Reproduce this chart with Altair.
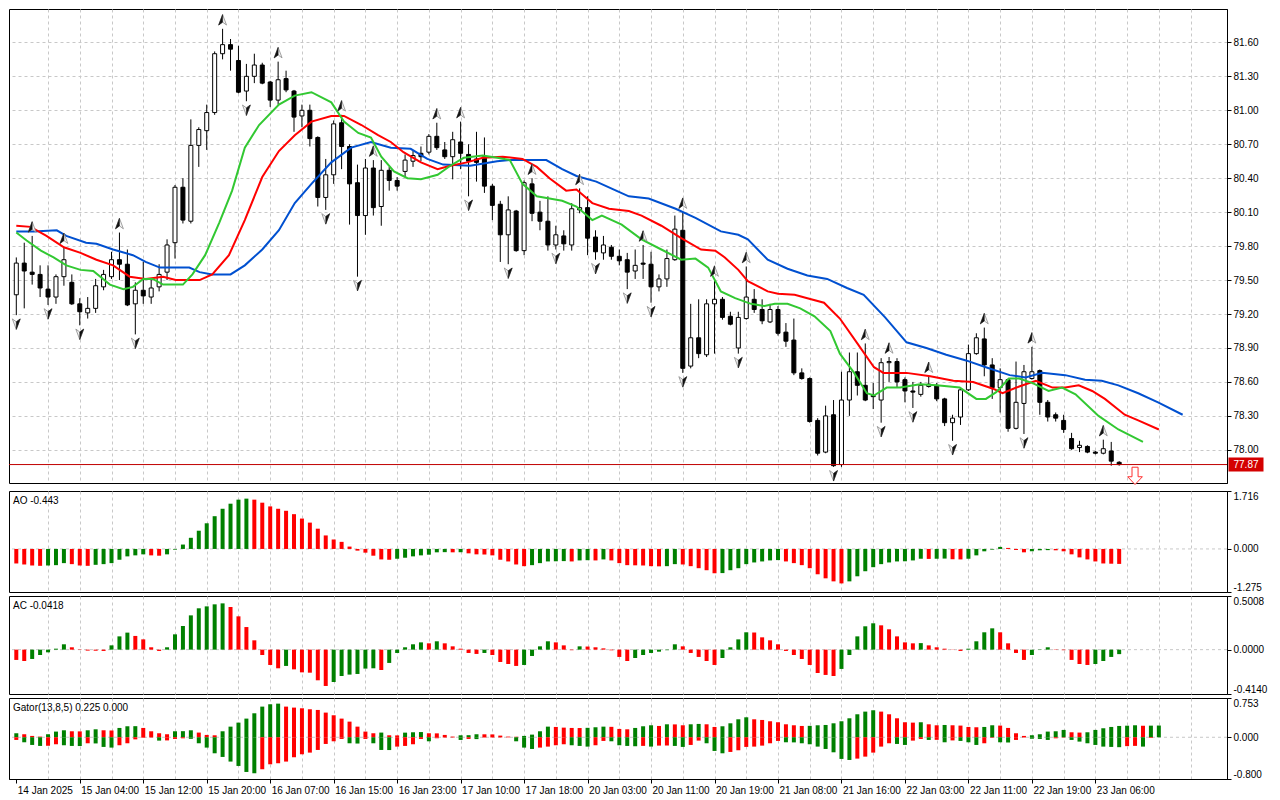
import altair as alt
import pandas as pd

# ---------------- data ----------------
bar_open = [
    79.37, 79.65, 79.57, 79.55, 79.42, 79.35, 79.53, 79.48, 79.29, 79.21,
    79.25, 79.44, 79.53, 79.68, 79.64, 79.29, 79.41, 79.35, 79.44, 79.57,
    79.83, 80.32, 80.02, 80.69, 80.82, 80.98, 81.50, 81.58, 81.44, 81.17,
    81.30, 81.40, 81.25, 81.09, 81.28, 81.17, 80.95, 81.00, 80.76, 80.23,
    80.43, 80.89, 80.68, 80.36, 80.07, 80.49, 80.15, 80.47, 80.38, 80.46,
    80.55, 80.62, 80.63, 80.77, 80.65, 80.59, 80.72, 80.61, 80.57, 80.59,
    80.33, 80.17, 79.90, 80.11, 79.76, 80.35, 80.10, 80.02, 79.81, 79.89,
    79.81, 80.12, 80.14, 79.88, 79.74, 79.79, 79.71, 79.68, 79.58, 79.65,
    79.64, 79.44, 79.51, 79.68, 79.94, 78.74, 78.99, 78.84, 79.29, 79.33,
    79.18, 78.90, 79.16, 79.33, 79.24, 79.13, 79.24, 79.04, 78.97, 78.68,
    78.63, 78.26, 77.98, 78.31, 77.87, 78.44, 78.69, 78.57, 78.48, 78.44,
    78.77, 78.78, 78.62, 78.52, 78.49, 78.56, 78.57, 78.45, 78.24, 78.29,
    78.53, 78.85, 78.98, 78.75, 78.55, 78.62, 78.19, 78.41, 78.63, 78.70,
    78.42, 78.31, 78.26, 78.10, 78.02, 78.03, 77.98, 77.97, 77.99, 77.89,
]
bar_high = [
    79.70, 79.83, 79.89, 79.63, 79.63, 79.55, 79.79, 79.55, 79.34, 79.35,
    79.51, 79.59, 79.75, 79.92, 79.77, 79.48, 79.66, 79.51, 79.64, 79.86,
    80.34, 80.40, 80.92, 80.85, 81.05, 81.52, 81.72, 81.63, 81.57, 81.41,
    81.50, 81.42, 81.26, 81.43, 81.35, 81.18, 81.05, 81.05, 80.77, 80.57,
    80.91, 80.96, 80.70, 80.52, 80.57, 80.56, 80.56, 80.50, 80.41, 80.61,
    80.64, 80.68, 80.79, 80.89, 80.72, 80.81, 80.90, 80.70, 80.81, 80.76,
    80.35, 80.20, 80.24, 80.12, 80.38, 80.40, 80.20, 80.24, 79.98, 79.94,
    80.18, 80.31, 80.24, 79.94, 79.89, 79.81, 79.77, 79.74, 79.77, 79.81,
    79.75, 79.55, 79.77, 80.07, 80.10, 79.29, 79.33, 79.33, 79.50, 79.35,
    79.22, 79.22, 79.62, 79.42, 79.33, 79.29, 79.27, 79.12, 79.16, 78.72,
    78.64, 78.28, 78.39, 78.44, 78.69, 78.86, 78.86, 78.94, 78.59, 78.81,
    78.82, 78.81, 78.64, 78.60, 78.60, 78.65, 78.59, 78.46, 78.31, 78.55,
    78.93, 79.03, 79.08, 78.81, 78.72, 78.63, 78.78, 78.75, 78.91, 78.71,
    78.44, 78.33, 78.31, 78.15, 78.08, 78.04, 77.99, 78.09, 78.07, 77.90,
]
bar_low = [
    79.19, 79.25, 79.46, 79.35, 79.28, 79.29, 79.45, 79.28, 79.10, 79.16,
    79.21, 79.41, 79.51, 79.50, 79.27, 79.02, 79.29, 79.29, 79.40, 79.50,
    79.69, 80.00, 80.00, 80.50, 80.65, 80.96, 81.45, 81.35, 81.15, 81.08,
    81.24, 81.23, 81.03, 81.05, 81.16, 80.81, 80.85, 80.68, 80.15, 80.12,
    80.35, 80.48, 79.99, 79.53, 79.90, 80.07, 79.98, 80.29, 80.29, 80.41,
    80.50, 80.55, 80.61, 80.65, 80.57, 80.39, 80.48, 80.24, 80.37, 80.27,
    80.03, 79.66, 79.64, 79.75, 79.72, 80.02, 79.94, 79.76, 79.77, 79.76,
    79.76, 80.09, 79.72, 79.68, 79.68, 79.68, 79.63, 79.42, 79.51, 79.51,
    79.30, 79.40, 79.44, 79.67, 78.68, 78.72, 78.81, 78.82, 78.85, 79.15,
    79.10, 78.85, 79.15, 79.21, 79.11, 79.12, 79.01, 78.91, 78.66, 78.62,
    78.24, 77.95, 77.97, 77.85, 77.85, 78.30, 78.48, 78.43, 78.36, 78.24,
    78.60, 78.55, 78.42, 78.37, 78.47, 78.55, 78.43, 78.21, 78.08, 78.22,
    78.52, 78.84, 78.65, 78.45, 78.33, 78.16, 78.18, 78.14, 78.62, 78.31,
    78.25, 78.25, 78.15, 78.00, 77.98, 77.97, 77.96, 77.96, 77.86, 77.86,
]
bar_close = [
    79.65, 79.58, 79.55, 79.43, 79.35, 79.53, 79.68, 79.29, 79.22, 79.25,
    79.45, 79.55, 79.68, 79.64, 79.28, 79.41, 79.36, 79.43, 79.55, 79.81,
    80.32, 80.03, 80.69, 80.83, 80.98, 81.50, 81.58, 81.54, 81.16, 81.30,
    81.40, 81.24, 81.09, 81.27, 81.18, 80.94, 81.00, 80.75, 80.23, 80.43,
    80.88, 80.68, 80.35, 80.07, 80.49, 80.14, 80.47, 80.38, 80.33, 80.56,
    80.60, 80.59, 80.77, 80.67, 80.59, 80.74, 80.62, 80.55, 80.54, 80.33,
    80.16, 79.90, 80.12, 79.76, 80.36, 80.09, 80.02, 79.81, 79.90, 79.82,
    80.13, 80.14, 79.87, 79.75, 79.81, 79.71, 79.67, 79.57, 79.63, 79.64,
    79.44, 79.51, 79.69, 79.95, 78.72, 78.99, 78.85, 79.29, 79.33, 79.17,
    79.11, 79.17, 79.35, 79.24, 79.14, 79.24, 79.03, 78.96, 78.68, 78.63,
    78.25, 77.97, 78.30, 77.86, 78.44, 78.69, 78.57, 78.44, 78.47, 78.77,
    78.78, 78.60, 78.52, 78.51, 78.57, 78.58, 78.45, 78.24, 78.28, 78.53,
    78.85, 78.99, 78.75, 78.55, 78.62, 78.19, 78.42, 78.69, 78.69, 78.42,
    78.29, 78.28, 78.18, 78.01, 78.04, 77.98, 77.97, 78.01, 77.90, 77.87,
]

# Alligator lines (bar position, price)
jaw_bar = [0, 2.2, 5.1, 6.3, 8.8, 10.1, 12.2, 14.7, 16.3, 18.1,
           21.8, 23.1, 24.7, 27.0, 28.8, 31.0, 33.1, 35.1, 37.2, 39.7,
           42.2, 44.7, 47.2, 49.7, 51.8, 53.8, 57.2, 60.6, 62.2, 66.8,
           68.8, 70.6, 73.1, 75.6, 77.2, 79.7, 83.1, 85.6, 88.8, 91.0,
           92.2, 94.7, 97.2, 99.7, 102.2, 104.7, 106.8, 109.5, 112.2, 114.7,
           117.2, 119.7, 122.2, 125.2, 127.2, 129.3, 132.2, 134.7, 136.8, 138.9,
           141.4, 143.9, 147.0]
jaw_val = [79.93, 79.93, 79.94, 79.89, 79.83, 79.82, 79.77, 79.72, 79.66, 79.61,
           79.61, 79.57, 79.55, 79.55, 79.63, 79.77, 79.94, 80.18, 80.35, 80.54,
           80.67, 80.72, 80.67, 80.66, 80.57, 80.52, 80.51, 80.55, 80.56, 80.56,
           80.48, 80.42, 80.37, 80.29, 80.24, 80.22, 80.13, 80.05, 79.93, 79.90,
           79.86, 79.68, 79.60, 79.54, 79.51, 79.43, 79.37, 79.17, 78.95, 78.90,
           78.84, 78.79, 78.73, 78.66, 78.64, 78.68, 78.66, 78.62, 78.61, 78.57,
           78.50, 78.42, 78.31]
teeth_bar = [0, 1.8, 3.8, 6.0, 8.1, 10.1, 12.2, 14.3, 16.3, 18.5,
             20.1, 23.1, 24.7, 26.8, 28.8, 31.0, 33.1, 35.1, 37.2, 39.7,
             41.3, 43.5, 45.6, 47.2, 48.8, 51.0, 53.1, 54.7, 56.8, 58.8,
             61.3, 63.8, 65.6, 67.2, 69.3, 70.6, 72.6, 74.7, 77.2, 78.8,
             81.3, 83.8, 86.3, 88.1, 89.3, 91.0, 92.2, 94.7, 96.0, 98.1,
             99.7, 101.8, 103.8, 106.0, 108.1, 109.3, 112.2, 115.2, 118.1, 120.6,
             123.1, 124.3, 126.4, 128.5, 130.6, 132.2, 133.9, 135.6, 137.2, 139.7,
             141.4, 144.0]
teeth_val = [79.98, 79.97, 79.89, 79.79, 79.74, 79.68, 79.63, 79.53, 79.51, 79.53,
             79.50, 79.50, 79.55, 79.72, 80.03, 80.41, 80.64, 80.78, 80.90, 80.95,
             80.95, 80.87, 80.78, 80.72, 80.63, 80.54, 80.48, 80.51, 80.54, 80.58,
             80.59, 80.57, 80.50, 80.40, 80.29, 80.30, 80.18, 80.13, 80.11, 80.07,
             79.98, 79.87, 79.77, 79.76, 79.70, 79.59, 79.49, 79.40, 79.38, 79.37,
             79.34, 79.30, 79.16, 78.94, 78.73, 78.68, 78.68, 78.65, 78.61, 78.60,
             78.54, 78.50, 78.56, 78.61, 78.55, 78.55, 78.57, 78.52, 78.45, 78.31,
             78.26, 78.18]
lips_bar = [0, 1.3, 3.1, 4.7, 6.3, 8.1, 9.7, 11.8, 13.5, 14.7,
            16.0, 17.2, 18.5, 21.0, 22.2, 23.8, 25.6, 27.2, 28.8, 30.6,
            33.1, 35.1, 37.2, 39.7, 41.3, 43.1, 44.7, 46.0, 47.6, 49.3,
            51.0, 53.1, 54.7, 56.4, 58.8, 60.6, 62.2, 63.8, 65.6, 67.2,
            68.8, 70.6, 72.6, 73.8, 76.3, 78.8, 81.3, 83.8, 85.6, 87.2,
            88.8, 90.6, 92.6, 94.3, 95.6, 97.2, 98.8, 100.6, 102.6, 103.8,
            105.6, 107.2, 108.1, 109.7, 111.4, 113.9, 116.0, 118.9, 121.0, 122.2,
            123.5, 125.1, 126.4, 128.1, 130.1, 131.8, 133.5, 136.4, 138.9, 142.0]
lips_val = [79.92, 79.85, 79.76, 79.70, 79.63, 79.59, 79.58, 79.46, 79.42, 79.44,
            79.51, 79.51, 79.46, 79.46, 79.55, 79.72, 80.01, 80.29, 80.67, 80.87,
            81.05, 81.13, 81.16, 81.07, 80.90, 80.80, 80.76, 80.59, 80.46, 80.40,
            80.39, 80.43, 80.51, 80.58, 80.60, 80.58, 80.56, 80.35, 80.24, 80.22,
            80.20, 80.15, 80.03, 80.07, 79.99, 79.86, 79.77, 79.68, 79.69, 79.61,
            79.40, 79.34, 79.29, 79.27, 79.29, 79.29, 79.25, 79.18, 79.05, 78.85,
            78.68, 78.50, 78.48, 78.55, 78.55, 78.58, 78.57, 78.55, 78.45, 78.45,
            78.51, 78.63, 78.63, 78.59, 78.52, 78.55, 78.49, 78.30, 78.18, 78.07]

fractal_up_bars = [2, 6, 13, 26, 33, 41, 45, 53, 56, 65, 71, 79, 84, 88, 92, 107, 110, 115, 122, 128, 137]
fractal_down_bars = [0, 4, 8, 15, 29, 39, 43, 57, 62, 68, 73, 77, 80, 84, 91, 103, 109, 113, 118, 127]

current_price = [77.87]
signal_bar = [141]
signal_price = [77.77]

ao_vals = [
    -0.43, -0.46, -0.49, -0.50, -0.49, -0.48, -0.42, -0.45, -0.49, -0.50,
    -0.47, -0.45, -0.42, -0.32, -0.22, -0.19, -0.16, -0.19, -0.20, -0.16,
    -0.02, 0.13, 0.33, 0.54, 0.76, 0.97, 1.19, 1.34, 1.46, 1.49,
    1.46, 1.37, 1.26, 1.19, 1.13, 1.03, 0.90, 0.78, 0.60, 0.40,
    0.28, 0.21, 0.07, -0.05, -0.11, -0.20, -0.31, -0.32, -0.29, -0.26,
    -0.22, -0.19, -0.17, -0.10, -0.095, -0.10, -0.097, -0.13, -0.16, -0.165,
    -0.19, -0.32, -0.37, -0.46, -0.51, -0.48, -0.42, -0.37, -0.365, -0.36,
    -0.37, -0.34, -0.333, -0.34, -0.31, -0.34, -0.42, -0.48, -0.485, -0.49,
    -0.51, -0.515, -0.51, -0.45, -0.46, -0.51, -0.57, -0.63, -0.72, -0.715,
    -0.63, -0.57, -0.45, -0.40, -0.37, -0.34, -0.33, -0.37, -0.42, -0.48,
    -0.57, -0.75, -0.87, -0.96, -1.02, -0.96, -0.81, -0.66, -0.54, -0.45,
    -0.40, -0.37, -0.365, -0.34, -0.29, -0.295, -0.29, -0.285, -0.305, -0.31,
    -0.29, -0.19, -0.07, -0.02, 0.06, 0.03, -0.03, -0.10, -0.07, -0.04,
    -0.035, -0.04, -0.07, -0.16, -0.25, -0.31, -0.37, -0.43, -0.437, -0.443,
]
ac_vals = [
    -0.096, -0.106, -0.087, -0.05, -0.025, 0.009, 0.05, 0.022, 0.003, -0.009,
    -0.01, -0.012, 0.04, 0.124, 0.159, 0.128, 0.096, 0.022, -0.012, 0.022,
    0.143, 0.221, 0.32, 0.386, 0.404, 0.423, 0.432, 0.398, 0.311, 0.211,
    0.087, -0.05, -0.143, -0.174, -0.152, -0.184, -0.212, -0.215, -0.286, -0.339,
    -0.302, -0.246, -0.233, -0.227, -0.177, -0.174, -0.19, -0.124, -0.031, 0.022,
    0.05, 0.068, 0.059, 0.078, 0.059, 0.031, 0.009, -0.031, -0.04, -0.031,
    -0.05, -0.115, -0.134, -0.152, -0.143, -0.059, 0.031, 0.078, 0.068, 0.04,
    -0.005, 0.031, 0.029, 0.022, 0.012, -0.006, -0.068, -0.106, -0.078, -0.05,
    -0.031, -0.019, -0.005, 0.05, 0.031, -0.031, -0.068, -0.106, -0.143, -0.078,
    0.022, 0.096, 0.162, 0.16, 0.115, 0.087, 0.05, -0.012, -0.05, -0.087,
    -0.143, -0.218, -0.236, -0.246, -0.18, -0.05, 0.124, 0.218, 0.246, 0.227,
    0.19, 0.124, 0.068, 0.059, 0.061, 0.04, 0.022, 0.009, 0.002, -0.012,
    0.009, 0.078, 0.162, 0.199, 0.162, 0.059, -0.031, -0.096, -0.05, 0.003,
    0.022, -0.003, -0.005, -0.096, -0.134, -0.143, -0.134, -0.106, -0.068, -0.0418,
]
gator_up = [
    0.077, 0.058, 0.026, 0.013, 0.058, 0.109, 0.134, 0.115, 0.113, 0.134,
    0.153, 0.134, 0.13, 0.179, 0.211, 0.213, 0.179, 0.115, 0.077, 0.058,
    0.115, 0.117, 0.134, 0.09, 0.045, 0.038, 0.115, 0.204, 0.281, 0.358,
    0.46, 0.588, 0.633, 0.645, 0.588, 0.569, 0.556, 0.537, 0.524, 0.473,
    0.422, 0.358, 0.30, 0.204, 0.109, 0.077, 0.09, 0.038, 0.036, 0.089,
    0.096, 0.10, 0.077, 0.075, 0.045, 0.013, 0.038, 0.04, 0.058, 0.057,
    0.055, 0.032, 0.013, 0.01, 0.026, 0.051, 0.115, 0.204, 0.198, 0.185,
    0.179, 0.177, 0.181, 0.192, 0.204, 0.20, 0.16, 0.153, 0.179, 0.211,
    0.23, 0.217, 0.249, 0.247, 0.23, 0.249, 0.256, 0.249, 0.198, 0.211,
    0.268, 0.345, 0.383, 0.345, 0.332, 0.307, 0.288, 0.249, 0.23, 0.217,
    0.219, 0.23, 0.236, 0.268, 0.307, 0.364, 0.441, 0.492, 0.518, 0.492,
    0.441, 0.364, 0.288, 0.281, 0.288, 0.249, 0.23, 0.236, 0.23, 0.224,
    0.198, 0.192, 0.198, 0.23, 0.224, 0.179, 0.077, 0.026, 0.038, 0.058,
    0.109, 0.115, 0.141, 0.096, 0.09, 0.096, 0.141, 0.173, 0.198, 0.217,
    0.222, 0.23, 0.221, 0.223, 0.225,
]
gator_low = [
    -0.051, -0.096, -0.147, -0.166, -0.163, -0.134, -0.153, -0.166, -0.168, -0.115,
    -0.118, -0.185, -0.198, -0.153, -0.115, -0.04, -0.01, -0.005, -0.064, -0.06,
    -0.032, -0.02, -0.03, -0.115, -0.198, -0.307, -0.377, -0.466, -0.55, -0.665,
    -0.69, -0.613, -0.518, -0.498, -0.466, -0.383, -0.326, -0.294, -0.243, -0.128,
    -0.077, -0.032, -0.115, -0.12, -0.032, -0.115, -0.243, -0.245, -0.179, -0.166,
    -0.134, -0.032, -0.077, -0.019, -0.006, -0.005, -0.051, -0.032, -0.035, -0.006,
    -0.005, -0.004, -0.002, -0.077, -0.198, -0.224, -0.198, -0.179, -0.153, -0.134,
    -0.153, -0.166, -0.179, -0.153, -0.07, -0.077, -0.153, -0.166, -0.172, -0.165,
    -0.179, -0.16, -0.158, -0.166, -0.185, -0.147, -0.064, -0.115, -0.262, -0.307,
    -0.281, -0.249, -0.185, -0.179, -0.16, -0.115, -0.07, -0.096, -0.098, -0.115,
    -0.134, -0.179, -0.224, -0.288, -0.415, -0.435, -0.409, -0.371, -0.294, -0.179,
    -0.115, -0.128, -0.147, -0.064, -0.032, -0.051, -0.049, -0.096, -0.06, -0.07,
    -0.096, -0.147, -0.115, -0.01, -0.096, -0.10, -0.051, -0.006, -0.03, -0.032,
    -0.051, -0.02, -0.006, -0.051, -0.083, -0.115, -0.147, -0.179, -0.185, -0.19,
    -0.17, -0.165, -0.179, -0.013, 0.0,
]

x_labels = ["14 Jan 2025", "15 Jan 04:00", "15 Jan 12:00", "15 Jan 20:00", "16 Jan 07:00",
            "16 Jan 15:00", "16 Jan 23:00", "17 Jan 10:00", "17 Jan 18:00", "20 Jan 03:00",
            "20 Jan 11:00", "20 Jan 19:00", "21 Jan 08:00", "21 Jan 16:00", "22 Jan 03:00",
            "22 Jan 11:00", "22 Jan 19:00", "23 Jan 06:00"]
price_ticks = [78.00, 78.30, 78.60, 78.90, 79.20, 79.50, 79.80, 80.10, 80.40, 80.70, 81.00, 81.30, 81.60]
price_range = [77.707, 81.895]
ao_range = [-1.275, 1.716]
ac_range = [-0.4140, 0.5008]
gator_range = [-0.800, 0.753]

# ---------------- layout / style ----------------
W = 1218
H_MAIN, H_AO, H_AC, H_GT = 474, 101, 98, 81
PX_PER_BAR = 8
X_DOM = [-0.29, W / PX_PER_BAR - 0.29]
FONT = "Liberation Sans"
GRID = "#c8c8c8"
GREEN, RED = "#008000", "#ff0000"
UP_PATH = "M0,-1 L0.75,1 L0,0.45 L-0.75,1 Z"
UP_DARK = "M0,-1 L0,0.45 L-0.75,1 Z"
DOWN_PATH = "M0,1 L0.75,-1 L0,-0.45 L-0.75,-1 Z"
DOWN_DARK = "M0,1 L0.75,-1 L0,-0.45 Z"
SIG_PATH = "M-0.35,-1 L0.35,-1 L0.35,0.1 L0.85,0.1 L0,1 L-0.85,0.1 L-0.35,0.1 Z"
BOX_PATH = "M-1,-0.36 L1,-0.36 L1,0.36 L-1,0.36 Z"

n = len(bar_open)
bars = list(range(n))

wick_df = pd.DataFrame({"bar": bars, "y": bar_low, "y2": bar_high})
body_df = pd.DataFrame({"bar": bars, "y": bar_open, "y2": bar_close,
                        "up": [c >= o for o, c in zip(bar_open, bar_close)]})
jaw_df = pd.DataFrame({"bar": jaw_bar, "y": jaw_val})
teeth_df = pd.DataFrame({"bar": teeth_bar, "y": teeth_val})
lips_df = pd.DataFrame({"bar": lips_bar, "y": lips_val})
fup_df = pd.DataFrame({"bar": fractal_up_bars, "y": [bar_high[i] for i in fractal_up_bars]})
fdn_df = pd.DataFrame({"bar": fractal_down_bars, "y": [bar_low[i] for i in fractal_down_bars]})
cur_df = pd.DataFrame({"y": current_price})
sig_df = pd.DataFrame({"bar": signal_bar, "y": signal_price})


def rise_colors(vals, first, absolute=False):
    out = [first]
    for k in range(1, len(vals)):
        a, b = vals[k], vals[k - 1]
        if absolute:
            a, b = abs(a), abs(b)
        out.append("up" if a > b else "down")
    return out


grid_axis = alt.Axis(values=list(range(4, 152, 4)), labels=False, ticks=False, domain=False,
                     grid=True, gridDash=[3, 3], gridColor=GRID, title=None)
x_scale = alt.Scale(domain=X_DOM, nice=False, zero=False)
x_grid = alt.X("bar:Q", scale=x_scale, axis=grid_axis)

nl = len(x_labels)
lab_js = "[" + ",".join("'%s'" % s for s in x_labels) + "]"
show = "(datum.value %% 8 == 0 && datum.value / 8 < %d)" % nl
bottom_axis = alt.Axis(
    values=list(range(0, 152, 4)),
    labelExpr="%s ? %s[datum.value / 8] : ''" % (show, lab_js),
    labelAlign="left", labelBaseline="top", labelPadding=2, labelOffset=1,
    labelFlush=False, labelOverlap=False,
    tickSize=4, tickOpacity={"condition": {"test": show, "value": 1}, "value": 0},
    grid=True, gridDash=[3, 3], gridColor=GRID,
    gridOpacity={"condition": {"test": "datum.value == 0", "value": 0}, "value": 1},
    domain=True, title=None)
x_bottom = alt.X("bar:Q", scale=x_scale, axis=bottom_axis)

y_main = alt.Y("y:Q", scale=alt.Scale(domain=price_range, nice=False, zero=False),
               axis=alt.Axis(orient="right", values=price_ticks, format=".2f", grid=True,
                             gridDash=[3, 3], gridColor=GRID, tickSize=4, labelPadding=2, title=None))

wicks = alt.Chart(wick_df).mark_rule(color="black", strokeWidth=1).encode(x=x_grid, y=y_main, y2="y2:Q")
bodies = alt.Chart(body_df).mark_bar(size=4, stroke="black", strokeWidth=1, orient="vertical").encode(
    x=x_grid, y=y_main, y2="y2:Q",
    fill=alt.condition("datum.up", alt.value("white"), alt.value("black")))
jaw = alt.Chart(jaw_df).mark_line(color="#0050d0", strokeWidth=2).encode(x=x_grid, y=y_main)
teeth = alt.Chart(teeth_df).mark_line(color="#ff0000", strokeWidth=2).encode(x=x_grid, y=y_main)
lips = alt.Chart(lips_df).mark_line(color="#32c832", strokeWidth=2).encode(x=x_grid, y=y_main)


def fractal_layers(df, full_path, dark_path, dy):
    light = alt.Chart(df).mark_point(shape=full_path, filled=True, fill="#f4f4f4", stroke="#8a8a8a",
                                     strokeWidth=0.8, size=110, opacity=1, yOffset=dy).encode(x=x_grid, y=y_main)
    dark = alt.Chart(df).mark_point(shape=dark_path, filled=True, fill="#111111", stroke="#111111",
                                    strokeWidth=0.5, size=110, opacity=1, yOffset=dy).encode(x=x_grid, y=y_main)
    return [light, dark]


cur_line = alt.Chart(cur_df).mark_rule(color="#c00000", strokeWidth=1).encode(y=y_main)
cur_box = alt.Chart(cur_df).mark_point(shape=BOX_PATH, filled=True, fill="#d40000", stroke="#d40000",
                                       size=1089, opacity=1).encode(x=alt.value(W + 19), y=y_main)
cur_txt = alt.Chart(cur_df).mark_text(color="white", font=FONT, fontSize=10, align="center",
                                      baseline="middle").encode(
    x=alt.value(W + 19), y=y_main, text=alt.Text("y:Q", format=".2f"))
sig = alt.Chart(sig_df).mark_point(shape=SIG_PATH, filled=True, fill="white", stroke="#ff3030",
                                   strokeWidth=1, size=300, opacity=1).encode(x=x_grid, y=y_main)

main = alt.layer(wicks, bodies, jaw, teeth, lips,
                 *fractal_layers(fup_df, UP_PATH, UP_DARK, -9),
                 *fractal_layers(fdn_df, DOWN_PATH, DOWN_DARK, 9),
                 cur_line, sig, cur_box, cur_txt).properties(width=W, height=H_MAIN)


def sub_panel(series, rng, fmt, height, label, x_enc):
    y_enc = alt.Y("v:Q", scale=alt.Scale(domain=rng, nice=False, zero=False),
                  axis=alt.Axis(orient="right", values=[rng[0], 0, rng[1]],
                                labelExpr="replace(format(datum.value, '%s'), '\u2212', '-')" % fmt,
                                labelFlush=True, grid=False, tickSize=4, labelPadding=2, title=None))
    col_enc = alt.Color("col:N", scale=alt.Scale(domain=["up", "down"], range=[GREEN, RED]), legend=None)
    zero = alt.Chart(pd.DataFrame({"v": [0]})).mark_rule(color=GRID, strokeDash=[3, 3]).encode(y=y_enc)
    layers = [zero]
    for vals, first, absolute in series:
        df = pd.DataFrame({"bar": list(range(len(vals))), "v": vals,
                           "col": rise_colors(vals, first, absolute)})
        layers.append(alt.Chart(df).mark_bar(size=4, orient="vertical").encode(x=x_enc, y=y_enc, color=col_enc))
    txt = alt.Chart(pd.DataFrame({"t": [label]})).mark_text(
        align="left", baseline="middle", font=FONT, fontSize=10, color="black").encode(
        x=alt.value(4), y=alt.value(10), text="t:N")
    layers.append(txt)
    return alt.layer(*layers).properties(width=W, height=height)


ao_panel = sub_panel([(ao_vals, "down", False)], ao_range, ".3f", H_AO,
                     "AO %.3f" % ao_vals[-1], x_grid)
ac_panel = sub_panel([(ac_vals, "down", False)], ac_range, ".4f", H_AC,
                     "AC %.4f" % ac_vals[-1], x_grid)
gt_panel = sub_panel([(gator_up, "up", False), (gator_low, "down", True)], gator_range, ".3f", H_GT,
                     "Gator(13,8,5) %.3f %.3f" % (gator_up[-1], abs(gator_low[-1])), x_bottom)

chart = alt.vconcat(main, ao_panel, ac_panel, gt_panel, spacing=2).resolve_scale(
    x="independent", y="independent", color="independent").properties(
    padding=0, background="white").configure_view(stroke="black", strokeWidth=1).configure_axis(
    labelFont=FONT, labelFontSize=10, labelColor="black", tickColor="black",
    domainColor="black", domainWidth=1, tickWidth=1)

chart.save("out.html", embed_options={"renderer": "svg", "actions": False})
